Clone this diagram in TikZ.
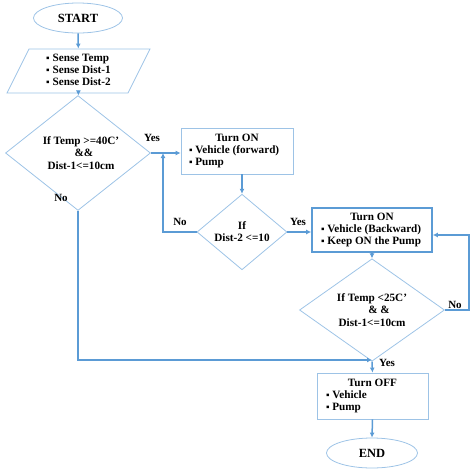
\documentclass[tikz,border=0pt]{standalone}
\usepackage{fontspec}
\setmainfont{Liberation Serif}
\usetikzlibrary{shapes.geometric,arrows.meta}
\definecolor{lnk}{HTML}{5B9BD5}
\definecolor{brd}{HTML}{9DC3E6}
\newcommand{\bul}{{\fontsize{10}{9}\selectfont ▪}\ }
\begin{document}
\begin{tikzpicture}[x=1pt,y=-1pt,
  font=\fontsize{11.2}{12.2}\selectfont\bfseries,
  shp/.style={draw=brd, line width=0.8pt},
  term/.style={shp, ellipse, minimum width=89pt, minimum height=30pt, inner sep=0pt,
    font=\fontsize{12.5}{13}\selectfont\bfseries},
  proc/.style={shp, rectangle, inner sep=0pt},
  procb/.style={draw=lnk, line width=1.6pt, rectangle, inner sep=0pt},
  io/.style={shp, trapezium, trapezium left angle=59, trapezium right angle=121,
    trapezium stretches body=true, inner sep=0pt},
  dec/.style={shp, diamond, inner sep=0pt, align=center},
  link/.style={draw=lnk, line width=1.5pt, -{Latex[length=5pt,width=5pt]}},
  lbl/.style={font=\fontsize{11}{12}\selectfont\bfseries}]
\useasboundingbox (0,0) rectangle (474,475);

\node[term] (start) at (78,18) {START};
\node[io, minimum width=143pt, minimum height=44pt] (inp) at (78.5,71)
  {\begin{tabular}{@{}l@{}}\bul Sense Temp\\ \bul Sense Dist-1\\ \bul Sense Dist-2\end{tabular}};
\node[dec, minimum width=145pt, minimum height=80pt] (d1) at (78,153)
  {\hspace*{6pt}If Temp >=40C'\\ \hspace*{12pt}\&\&\\ \hspace*{6pt}Dist-1<=10cm};
\node[proc, minimum width=112pt, minimum height=46pt] (b1) at (237,151)
  {\begin{tabular}{@{}p{96pt}@{}}\multicolumn{1}{@{}c@{}}{Turn ON}\\ \bul Vehicle (forward)\\ \bul Pump\end{tabular}};
\node[dec, minimum width=90pt, minimum height=58pt] (d2) at (242,232)
  {If\\ Dist-2 <=10};
\node[procb, minimum width=120pt, minimum height=44pt] (b2) at (372,230)
  {\begin{tabular}{@{}p{102pt}@{}}\multicolumn{1}{@{}c@{}}{Turn ON}\\ \bul Vehicle (Backward)\\ \bul Keep ON the Pump\end{tabular}};
\node[dec, minimum width=145pt, minimum height=80pt] (d3) at (372,310)
  {If Temp <25C'\\ \hspace*{14pt}\& \&\\ Dist-1<=10cm};
\node[proc, minimum width=111pt, minimum height=46pt] (b3) at (372.5,396)
  {\begin{tabular}{@{}p{93pt}@{}}\multicolumn{1}{@{}c@{}}{Turn OFF}\\ \bul Vehicle\\ \bul Pump\end{tabular}};
\node[term, minimum width=91pt] (end) at (372,453) {END};

\coordinate (j1) at (163,153);
\coordinate (j2) at (469,310);
\coordinate (j3) at (372,360);
\coordinate (c1) at (78,360);

\draw[link] (start) -- (inp);
\draw[link] (inp) -- (d1);
\draw[link] (d1.east) -- (d1.east -| b1.west);
\draw[link] (d2.north |- b1.south) -- (d2.north);
\draw[link] (d2.east) -- (d2.east -| b2.west);
\draw[link] (d2.west) -| (j1);
\draw[link] (b2.south) -- (d3.north);
\draw[link] (d3.east) -- (j2) |- ([yshift=-5pt]b2.east);
\draw[link] (d1.south) -- (c1) -- (j3);
\draw[link] (d3.south) -- (b3.north);
\draw[link] (b3.south) -- (end.north);

\node[lbl] (y1) at (152,138) {Yes};
\node[lbl] (n1) at (61,198) {No};
\node[lbl] (n2) at (180,222) {No};
\node[lbl] (y2) at (298,222) {Yes};
\node[lbl] (n3) at (455,305) {No};
\node[lbl] (y3) at (387,363) {Yes};
\end{tikzpicture}
\end{document}
